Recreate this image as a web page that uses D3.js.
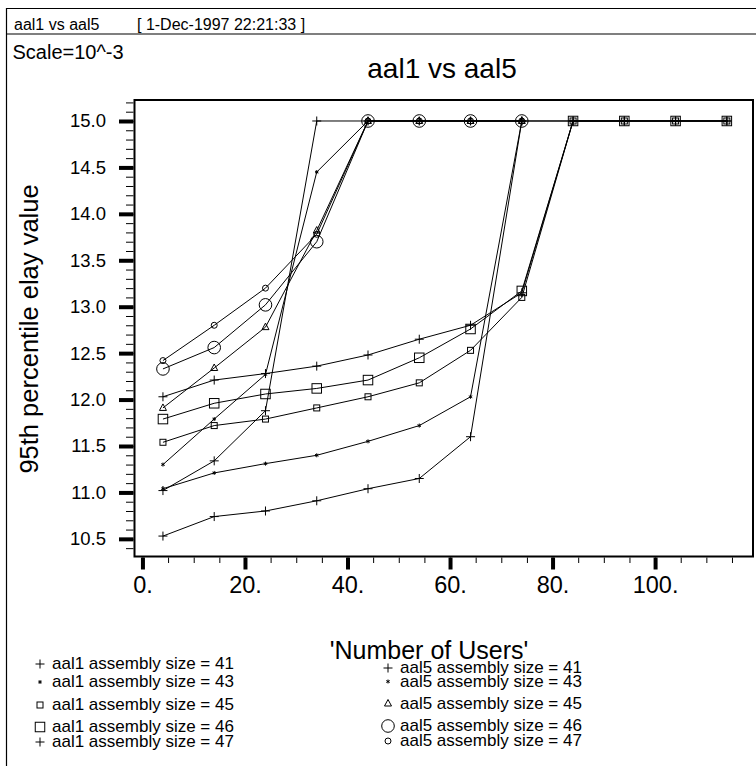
<!DOCTYPE html>
<html>
<head>
<meta charset="utf-8">
<script src="https://cdn.jsdelivr.net/npm/d3@7"></script>
<style>
  body { margin: 0; background: #fff; }
  text { font-family: "Liberation Sans", Arial, Helvetica, sans-serif; fill: #000; }
</style>
</head>
<body>
<div id="chart"></div>
<script>
// Number of users (x values) for each protocol
const usersAal1 = [4, 14, 24, 34, 44, 54, 64, 74, 84, 94, 104, 114];
const usersAal5 = [4, 14, 24, 34, 44, 54, 64, 74];

// 95th percentile delay values (scale 10^-3)
const aal1_41 = [10.53, 10.74, 10.80, 10.91, 11.04, 11.15, 11.60, 15.0, 15.0, 15.0, 15.0, 15.0];
const aal1_43 = [11.04, 11.21, 11.31, 11.40, 11.55, 11.72, 12.03, 15.0, 15.0, 15.0, 15.0, 15.0];
const aal1_45 = [11.54, 11.72, 11.79, 11.91, 12.03, 12.18, 12.53, 13.10, 15.0, 15.0, 15.0, 15.0];
const aal1_46 = [11.79, 11.96, 12.06, 12.12, 12.21, 12.45, 12.76, 13.17, 15.0, 15.0, 15.0, 15.0];
const aal1_47 = [12.03, 12.21, 12.28, 12.36, 12.48, 12.65, 12.80, 13.15, 15.0, 15.0, 15.0, 15.0];

const aal5_41 = [11.02, 11.34, 11.88, 15.0, 15.0, 15.0, 15.0, 15.0];
const aal5_43 = [11.30, 11.79, 12.27, 14.45, 15.0, 15.0, 15.0, 15.0];
const aal5_45 = [11.91, 12.34, 12.78, 13.82, 15.0, 15.0, 15.0, 15.0];
const aal5_46 = [12.33, 12.56, 13.02, 13.70, 15.0, 15.0, 15.0, 15.0];
const aal5_47 = [12.42, 12.80, 13.20, 13.78, 15.0, 15.0, 15.0, 15.0];

const seriesLabels = [
  "aal1 assembly size = 41", "aal1 assembly size = 43", "aal1 assembly size = 45",
  "aal1 assembly size = 46", "aal1 assembly size = 47",
  "aal5 assembly size = 41", "aal5 assembly size = 43", "aal5 assembly size = 45",
  "aal5 assembly size = 46", "aal5 assembly size = 47"
];
const markerTypes = ["plus", "star", "smallSquare", "bigSquare", "plus",
                     "plus", "star", "triangle", "bigCircle", "smallCircle"];

// Axis ticks
const xMajorTicks = [0, 20, 40, 60, 80, 100];
const yMajorTicks = [10.5, 11.0, 11.5, 12.0, 12.5, 13.0, 13.5, 14.0, 14.5, 15.0];

const series = [
  {x: usersAal1, y: aal1_41}, {x: usersAal1, y: aal1_43}, {x: usersAal1, y: aal1_45},
  {x: usersAal1, y: aal1_46}, {x: usersAal1, y: aal1_47},
  {x: usersAal5, y: aal5_41}, {x: usersAal5, y: aal5_43}, {x: usersAal5, y: aal5_45},
  {x: usersAal5, y: aal5_46}, {x: usersAal5, y: aal5_47}
].map((s, i) => ({
  label: seriesLabels[i],
  marker: markerTypes[i],
  points: s.x.map((u, j) => ({users: u, value: s.y[j]}))
}));

const width = 756, height = 766;
const plot = {left: 134.5, top: 100, right: 753, bottom: 556.5};

const svg = d3.select("#chart")
  .append("svg")
  .attr("width", width)
  .attr("height", height);

// Outer border and header line
svg.append("path")
  .attr("d", `M6.5,${height}V8.5H${width}M6.5,34H${width}`)
  .attr("fill", "none")
  .attr("stroke", "#000")
  .attr("stroke-width", 1.2);

svg.append("text").attr("x", 14).attr("y", 29.5)
  .attr("font-size", 16).text("aal1 vs aal5");
svg.append("text").attr("x", 137).attr("y", 29.5)
  .attr("font-size", 16).text("[ 1-Dec-1997 22:21:33 ]");

svg.append("text").attr("x", 12.5).attr("y", 58.5)
  .attr("font-size", 20).text("Scale=10^-3");

// Title
svg.append("text")
  .attr("x", 442).attr("y", 78)
  .attr("text-anchor", "middle")
  .attr("font-size", 28)
  .text("aal1 vs aal5");

// Scales
const x = d3.scaleLinear().domain([-1.55, 119.1]).range([plot.left, plot.right]);
const y = d3.scaleLinear().domain([10.31, 15.226]).range([plot.bottom, plot.top]);

// Y axis: minor then major ticks
svg.append("g")
  .attr("transform", `translate(${plot.left - 1},0)`)
  .call(d3.axisLeft(y).tickValues(d3.range(104, 153).map(d => d / 10)).tickSize(7.5).tickFormat(""))
  .call(g => g.select(".domain").remove())
  .call(g => g.selectAll(".tick line").attr("stroke-width", 1));

svg.append("g")
  .attr("transform", `translate(${plot.left - 1},0)`)
  .call(d3.axisLeft(y).tickValues(yMajorTicks).tickSize(14.5).tickPadding(13).tickFormat(d3.format(".1f")))
  .call(g => g.select(".domain").remove())
  .call(g => g.selectAll(".tick line").attr("stroke-width", 4))
  .call(g => g.selectAll(".tick text")
    .attr("font-size", 18.5)
    .attr("font-family", "'Liberation Sans', Arial, sans-serif"));

// X axis: minor then major ticks
svg.append("g")
  .attr("transform", `translate(0,${plot.bottom + 1})`)
  .call(d3.axisBottom(x).tickValues(d3.range(0, 116, 5)).tickSize(5.5).tickFormat(""))
  .call(g => g.select(".domain").remove())
  .call(g => g.selectAll(".tick line").attr("stroke-width", 1));

svg.append("g")
  .attr("transform", `translate(0,${plot.bottom + 1})`)
  .call(d3.axisBottom(x).tickValues(xMajorTicks).tickSize(12).tickPadding(7).tickFormat(d => d + "."))
  .call(g => g.select(".domain").remove())
  .call(g => g.selectAll(".tick line").attr("stroke-width", 4))
  .call(g => g.selectAll(".tick text")
    .attr("font-size", 23.5)
    .attr("font-family", "'Liberation Sans', Arial, sans-serif"));

// Axis titles
svg.append("text")
  .attr("transform", "translate(38,329) rotate(-90)")
  .attr("text-anchor", "middle")
  .attr("font-size", 25.5)
  .text("95th percentile elay value");

svg.append("text")
  .attr("x", 429).attr("y", 659)
  .attr("text-anchor", "middle")
  .attr("font-size", 25)
  .text("'Number of Users'");

// Marker drawing
function drawMarker(g, type, cx, cy) {
  const m = g.append("g").attr("fill", "none").attr("stroke", "#000").attr("stroke-width", 1);
  if (type === "plus") {
    m.append("path").attr("d", `M${cx - 4.5},${cy}H${cx + 4.5}M${cx},${cy - 4.5}V${cy + 4.5}`);
  } else if (type === "star") {
    const r = 2;
    m.append("path").attr("d", d3.range(3).map(k => {
      const a = k * Math.PI / 3 + Math.PI / 2;
      return `M${cx - r * Math.cos(a)},${cy - r * Math.sin(a)}L${cx + r * Math.cos(a)},${cy + r * Math.sin(a)}`;
    }).join(""));
  } else if (type === "smallSquare") {
    m.append("rect").attr("x", cx - 3).attr("y", cy - 3).attr("width", 6).attr("height", 6);
  } else if (type === "bigSquare") {
    m.append("rect").attr("x", cx - 4.75).attr("y", cy - 4.75).attr("width", 9.5).attr("height", 9.5);
  } else if (type === "triangle") {
    m.append("path").attr("d", `M${cx},${cy - 4}L${cx + 3.5},${cy + 2.5}L${cx - 3.5},${cy + 2.5}Z`);
  } else if (type === "bigCircle") {
    m.append("circle").attr("cx", cx).attr("cy", cy).attr("r", 6.3);
  } else if (type === "smallCircle") {
    m.append("circle").attr("cx", cx).attr("cy", cy).attr("r", 3);
  }
}

// Lines
const line = d3.line()
  .x(d => x(d.users))
  .y(d => y(d.value));

const dataG = svg.append("g");
series.forEach(s => {
  dataG.append("path")
    .datum(s.points)
    .attr("fill", "none")
    .attr("stroke", "#000")
    .attr("stroke-width", 1)
    .attr("d", line);
});

// Markers
series.forEach(s => {
  s.points.forEach(p => drawMarker(dataG, s.marker, x(p.users), y(p.value)));
});

// Plot frame
svg.append("rect")
  .attr("x", plot.left).attr("y", plot.top)
  .attr("width", plot.right - plot.left)
  .attr("height", plot.bottom - plot.top)
  .attr("fill", "none")
  .attr("stroke", "#000")
  .attr("stroke-width", 2);

// Legend: two columns
const legendLeft = [669, 687, 710, 732, 747];
const legendRight = [673, 686.5, 708.5, 731, 746];
const legend = svg.append("g");
series.forEach((s, i) => {
  const right = i >= 5;
  const base = right ? legendRight[i - 5] : legendLeft[i];
  const mx = right ? 388 : 40;
  drawMarker(legend, s.marker, mx, base - 5);
  legend.append("text")
    .attr("x", mx + 12)
    .attr("y", base)
    .attr("font-size", 17)
    .text(s.label);
});
</script>
</body>
</html>
